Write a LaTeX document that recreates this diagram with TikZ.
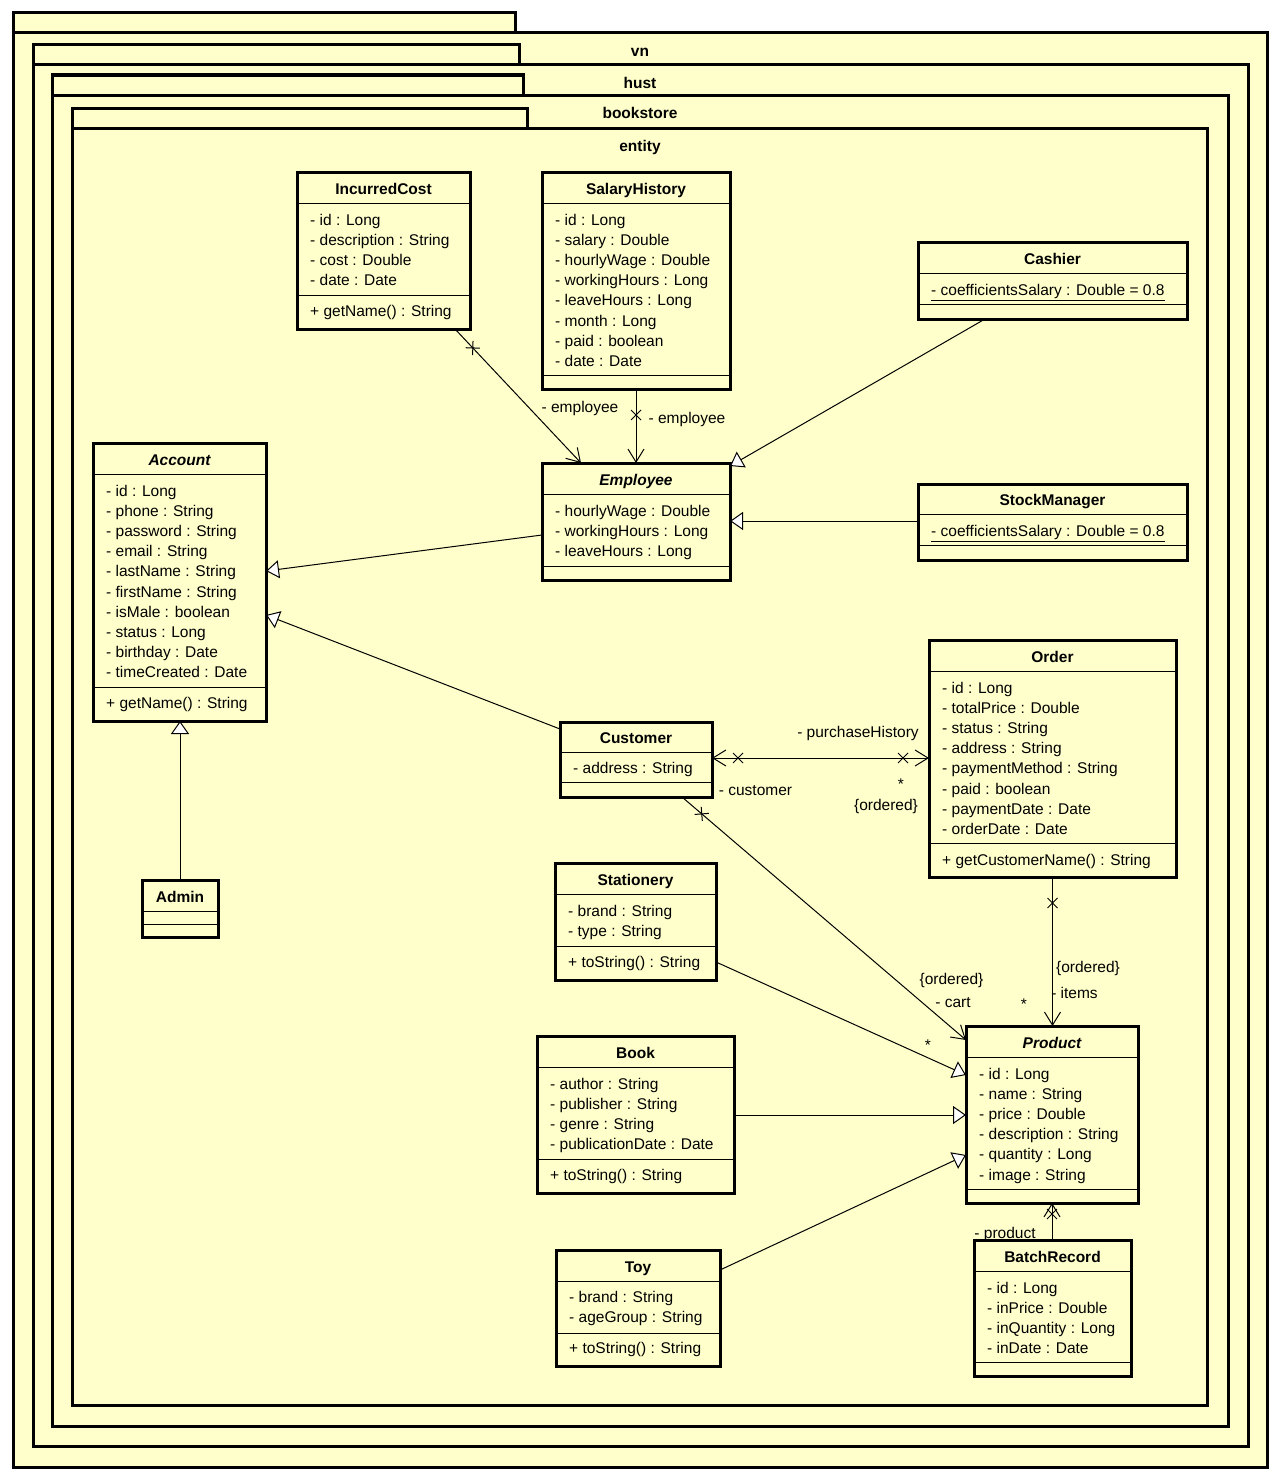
\documentclass[tikz,border=0pt]{standalone}
\usepackage{fontspec}
\setmainfont{Liberation Sans}
\usetikzlibrary{arrows.meta,decorations.markings}

\definecolor{umlfill}{RGB}{255,255,204}
\newcommand{\umlfont}{\fontsize{15.5}{18}\selectfont}

\tikzset{
  pkgbox/.style={draw, line width=3pt, fill=umlfill, anchor=north west, inner sep=0pt, outer sep=0pt},
  classbox/.style={draw, line width=3pt, fill=umlfill, anchor=north west, inner sep=0pt, outer sep=0pt},
  sepline/.style={line width=1pt},
  attr/.style={anchor=base west, inner sep=0pt, font=\umlfont},
  ctitle/.style={anchor=base, inner sep=0pt, font=\umlfont\bfseries},
  atitle/.style={anchor=base, inner sep=0pt, font=\umlfont\bfseries\itshape},
  pkgname/.style={anchor=base, inner sep=0pt, font=\umlfont\bfseries},
  lbl/.style={anchor=base, inner sep=0pt, font=\umlfont},
  assoc/.style={draw, line width=1pt, -{Straight Barb[length=13pt,width=16pt]}},
  biassoc/.style={draw, line width=1pt, {Straight Barb[length=13pt,width=16pt]}-{Straight Barb[length=13pt,width=16pt]}},
  gen/.style={draw, line width=1pt, -{Triangle[open, length=13pt, width=18pt, fill=white]}},
  xat/.style={postaction={decorate, decoration={markings,
      mark=at position #1 with {\draw[line width=1pt,-] (-5pt,-5pt) -- (5pt,5pt) (-5pt,5pt) -- (5pt,-5pt);}}}}
}

% box from (x1,y1) to (x2,y2), y measured downwards
\newcommand{\umlbox}[5]{\node[classbox, minimum width={(#4-#2)*1pt}, minimum height={(#5-#3)*1pt}] (#1) at (#2,#3) {};}
\newcommand{\pkg}[5]{\node[pkgbox, minimum width={(#4-#2)*1pt}, minimum height={(#5-#3)*1pt}] (#1) at (#2,#3) {};}
\newcommand{\usep}[3]{\draw[sepline] (#1,#3) -- (#2,#3);}
\newcommand{\umlattrs}[4]{%
  \foreach \atext [count=\ai] in {#4} {
    \pgfmathsetmacro\ayy{#3+20.1*(\ai-1)+5.5}
    \node[attr] (#1-a\ai) at (#2,\ayy) {\atext};
  }}

\begin{document}
\begin{tikzpicture}[x=1pt,y=-1pt]
\fill[white] (0,0) rectangle (1281,1480);
\useasboundingbox (0,0) rectangle (1281,1480);

% nested packages
\pkg{vn-tab}{13}{13}{515}{33}
\pkg{vn}{13}{33}{1267}{1467}
\node[pkgname] (vn-name) at (640,56.5) {vn};
\pkg{hust-tab}{33}{45}{519}{65}
\pkg{hust}{33}{65}{1248}{1446}
\node[pkgname] (hust-name) at (640,88.5) {hust};
\pkg{bookstore-tab}{52}{75}{523}{95}
\pkg{bookstore}{52}{95}{1228}{1426}
\node[pkgname] (bookstore-name) at (640,118.5) {bookstore};
\pkg{entity-tab}{72}{108}{527}{128}
\pkg{entity}{72}{128}{1207}{1405}
\node[pkgname] (entity-name) at (640,151.5) {entity};

% IncurredCost
\umlbox{incurred}{297}{172}{470}{329}
\node[ctitle] (incurred-t) at (383.5,194.5) {IncurredCost};
\usep{297}{470}{203}
\umlattrs{incurred}{310}{220}{- id : Long, - description : String, - cost : Double, - date : Date}
\usep{297}{470}{295}
\node[attr] (incurred-o) at (310,316.5) {+ getName() : String};

% SalaryHistory
\umlbox{salary}{542}{172}{730}{389}
\node[ctitle] (salary-t) at (636,194.5) {SalaryHistory};
\usep{542}{730}{203}
\umlattrs{salary}{555}{220}{- id : Long, - salary : Double, - hourlyWage : Double, - workingHours : Long, - leaveHours : Long, - month : Long, - paid : boolean, - date : Date}
\usep{542}{730}{375}

% Cashier
\umlbox{cashier}{918}{242}{1187}{319}
\node[ctitle] (cashier-t) at (1052.5,264.5) {Cashier};
\usep{918}{1187}{273}
\umlattrs{cashier}{931}{290}{{\underline{- coefficientsSalary : Double = 0.8}}}
\usep{918}{1187}{304}

% Account
\umlbox{account}{93}{443}{266}{721}
\node[atitle] (account-t) at (179.5,465.5) {Account};
\usep{93}{266}{474}
\umlattrs{account}{106}{491}{- id : Long, - phone : String, - password : String, - email : String, - lastName : String, - firstName : String, - isMale : boolean, - status : Long, - birthday : Date, - timeCreated : Date}
\usep{93}{266}{687}
\node[attr] (account-o) at (106,708.5) {+ getName() : String};

% Employee
\umlbox{employee}{542}{463}{730}{580}
\node[atitle] (employee-t) at (636,485.5) {Employee};
\usep{542}{730}{494}
\umlattrs{employee}{555}{511}{- hourlyWage : Double, - workingHours : Long, - leaveHours : Long}
\usep{542}{730}{566}

% StockManager
\umlbox{stock}{918}{484}{1187}{560}
\node[ctitle] (stock-t) at (1052.5,505.5) {StockManager};
\usep{918}{1187}{514}
\umlattrs{stock}{931}{531}{{\underline{- coefficientsSalary : Double = 0.8}}}
\usep{918}{1187}{545}

% Order
\umlbox{order}{929}{640}{1176}{877}
\node[ctitle] (order-t) at (1052.5,662.5) {Order};
\usep{929}{1176}{671}
\umlattrs{order}{942}{688}{- id : Long, - totalPrice : Double, - status : String, - address : String, - paymentMethod : String, - paid : boolean, - paymentDate : Date, - orderDate : Date}
\usep{929}{1176}{843}
\node[attr] (order-o) at (942,865.5) {+ getCustomerName() : String};

% Customer
\umlbox{customer}{560}{722}{712}{797}
\node[ctitle] (customer-t) at (636,743.5) {Customer};
\usep{560}{712}{752}
\umlattrs{customer}{573}{768}{- address : String}
\usep{560}{712}{782}

% Admin
\umlbox{admin}{142}{880}{218}{937}
\node[ctitle] (admin-t) at (180,902.5) {Admin};
\usep{142}{218}{911}
\usep{142}{218}{924}

% Stationery
\umlbox{stationery}{555}{863}{716}{980}
\node[ctitle] (stationery-t) at (635.5,885.5) {Stationery};
\usep{555}{716}{894}
\umlattrs{stationery}{568}{911}{- brand : String, - type : String}
\usep{555}{716}{946}
\node[attr] (stationery-o) at (568,967.5) {+ toString() : String};

% Book
\umlbox{book}{537}{1036}{734}{1193}
\node[ctitle] (book-t) at (635.5,1058.5) {Book};
\usep{537}{734}{1067}
\umlattrs{book}{550}{1084}{- author : String, - publisher : String, - genre : String, - publicationDate : Date}
\usep{537}{734}{1159}
\node[attr] (book-o) at (550,1180.5) {+ toString() : String};

% Product
\umlbox{product}{966}{1026}{1138}{1203}
\node[atitle] (product-t) at (1052,1048.5) {Product};
\usep{966}{1138}{1057}
\umlattrs{product}{979}{1074}{- id : Long, - name : String, - price : Double, - description : String, - quantity : Long, - image : String}
\usep{966}{1138}{1189}

% Toy
\umlbox{toy}{556}{1250}{720}{1366}
\node[ctitle] (toy-t) at (638,1272.5) {Toy};
\usep{556}{720}{1281}
\umlattrs{toy}{569}{1297}{- brand : String, - ageGroup : String}
\usep{556}{720}{1333}
\node[attr] (toy-o) at (569,1353.5) {+ toString() : String};

% BatchRecord
\umlbox{batch}{974}{1240}{1131}{1376}
\node[ctitle] (batch-t) at (1052.5,1262.5) {BatchRecord};
\usep{974}{1131}{1271}
\umlattrs{batch}{987}{1288}{- id : Long, - inPrice : Double, - inQuantity : Long, - inDate : Date}
\usep{974}{1131}{1362}

% associations
\draw[assoc, xat=26pt] ([xshift=158pt]incurred.south west) -- ([xshift=39pt]employee.north west);
\draw[assoc, xat=26pt] (salary.south) -- (employee.north);
\draw[biassoc, xat=26pt, xat=-26pt] ([yshift=-36pt]customer.north east) -- ([yshift=-118pt]order.north west);
\draw[assoc, xat=26pt] ([xshift=122pt]customer.south west) -- ([yshift=-14pt]product.north west);
\draw[assoc, xat=26pt] (order.south) -- (order.south |- product.north);
\draw[assoc, xat=26pt] ([xshift=78pt]batch.north west) -- ([xshift=78pt]batch.north west |- product.south);

% generalizations
\draw[gen] ([xshift=67pt]cashier.south west) -- ([yshift=-3pt]employee.north east);
\draw[gen] ([yshift=-37pt]stock.north west) -- ([yshift=-58pt]employee.north east);
\draw[gen] ([yshift=-72pt]employee.north west) -- ([yshift=-128pt]account.north east);
\draw[gen] ([yshift=-7pt]customer.north west) -- ([yshift=-172pt]account.north east);
\draw[gen] (admin.north) -- (admin.north |- account.south);
\draw[gen] ([yshift=-99pt]stationery.north east) -- ([yshift=-49pt]product.north west);
\draw[gen] ([yshift=-79pt]book.north east) -- ([yshift=-89pt]product.north west);
\draw[gen] ([yshift=-20pt]toy.north east) -- ([yshift=-129pt]product.north west);

% role names and multiplicities
\node[lbl] (r-emp1) at (580,412) {- employee};
\node[lbl] (r-emp2) at (687,423) {- employee};
\node[lbl] (r-hist) at (858,737) {- purchaseHistory};
\node[lbl] (r-cust) at (755.5,795) {- customer};
\node[lbl] (m-hist) at (901,789) {*};
\node[lbl] (o-hist) at (886,810.5) {\{ordered\}};
\node[lbl] (o-cart) at (951.5,984.5) {\{ordered\}};
\node[lbl] (r-cart) at (953,1007) {- cart};
\node[lbl] (m-cart) at (928,1050) {*};
\node[lbl] (o-items) at (1088,972.5) {\{ordered\}};
\node[lbl] (r-items) at (1074.5,998) {- items};
\node[lbl] (m-items) at (1024,1009) {*};
\node[lbl] (r-prod) at (1005,1238) {- product};
\end{tikzpicture}
\end{document}
